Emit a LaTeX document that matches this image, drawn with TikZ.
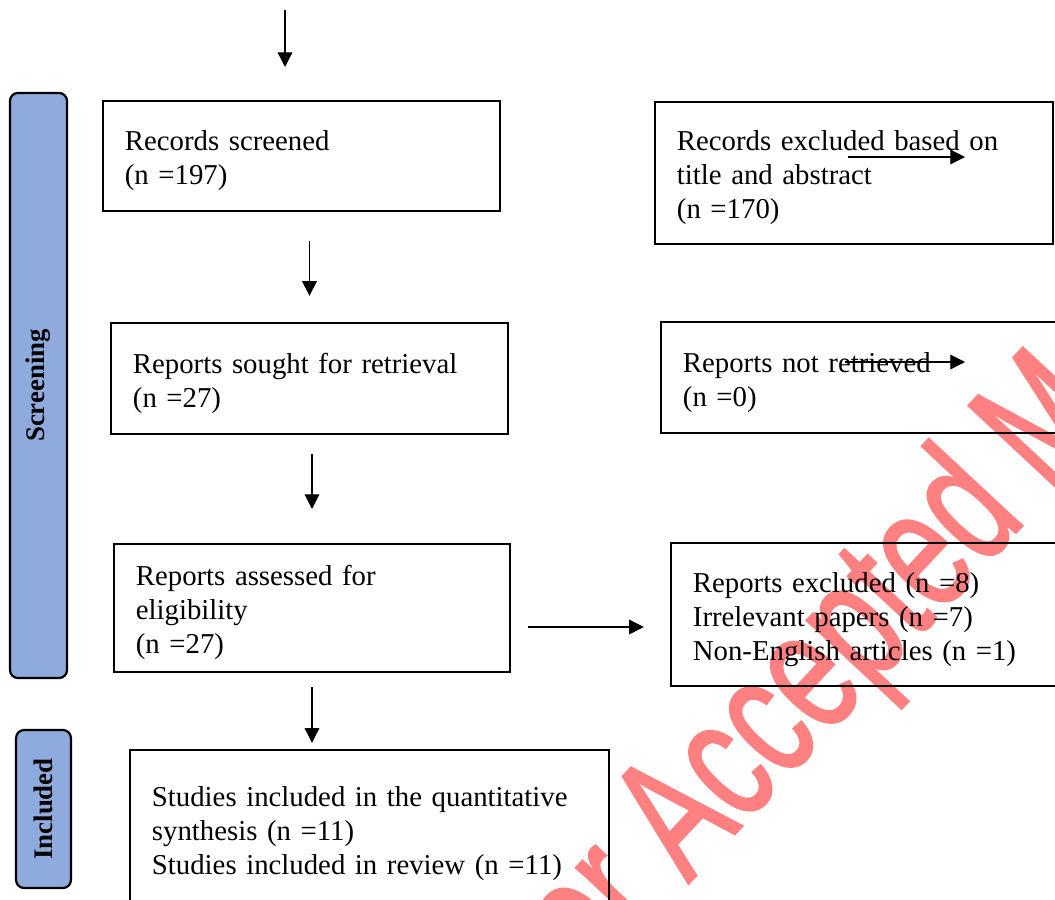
\documentclass[tikz,border=0pt]{standalone}
\usepackage{fontspec}
\setmainfont{Liberation Serif}
\newfontfamily\wmfont[FakeBold=1.5]{Liberation Sans}
\usetikzlibrary{arrows.meta}
\definecolor{barblue}{RGB}{143,170,220}
\definecolor{wmred}{RGB}{255,128,128}

\begin{document}
\begin{tikzpicture}[x=0.41pt, y=-0.41pt,
	stage/.style={draw, line width=0.9pt, align=left, inner xsep=9pt, inner ysep=0pt, font=\fontsize{11.8}{13.9}\selectfont, execute at begin node={\rule{0pt}{12.2pt}}},
	bar/.style={draw, line width=0.9pt, rounded corners=3.3pt, fill=barblue, font=\bfseries\fontsize{11}{13}\selectfont},
	arr/.style={-{Triangle[length=6pt,width=6pt]}, line width=0.5pt},
	wmark/.style={text=wmred, font=\wmfont\fontsize{72}{80}\selectfont, inner sep=0pt}]
			\useasboundingbox (0, 0) rectangle (1055, 899);
			\clip (0, 0) rectangle (1055, 899);
			%%
			\node[wmark, rotate=47, xscale=0.68, anchor=base west] (wm) at (688, 884) {\llap{Author }Accepted Manuscript};
			%%
			\node[bar, rotate=90, minimum width=239.9pt, minimum height=23.4pt] (scr) at (38.5, 385.5) {Screening};
			\node[bar, rotate=90, minimum width=64.8pt, minimum height=22.5pt] (inc) at (43.5, 809) {Included};
			%%
			\node[stage, text width=144.8pt, minimum height=45.1pt] (rs) at (301.5, 156) {Records screened\\(n =197)};
			\node[stage, text width=144.8pt, minimum height=45.5pt] (sought) at (309.5, 378.5) {Reports sought for retrieval\\(n =27)};
			\node[stage, text width=144.4pt, minimum height=52.5pt] (assessed) at (312, 608) {Reports assessed for\\eligibility\\(n =27)};
			\node[stage, text width=178.4pt, minimum height=64.4pt] (incl) at (369.5, 828.5) {Studies included in the quantitative\\synthesis (n =11)\\Studies included in review (n =11)};
			%%
			\node[stage, text width=145.2pt, minimum height=58.2pt] (excl1) at (854, 173) {Records excluded based on\\title and abstract\\(n =170)};
			\node[stage, text width=145.2pt, minimum height=45.5pt] (notret) at (860, 377.5) {Reports not retrieved\\(n =0)};
			\node[stage, text width=145.2pt, minimum height=58.6pt] (excl2) at (870, 614.5) {Reports excluded (n =8)\\Irrelevant papers (n =7)\\Non-English articles (n =1)};
			%%
			\coordinate (src) at (285, 10);
			\coordinate (aside) at (0, 627);
			\coordinate (s1a) at (848, 157);
			\coordinate (s1b) at (965, 157);
			\coordinate (s2a) at (845, 362);
			\coordinate (s2b) at (965, 362);
			%%
			\draw[arr, shorten >=13.5pt] (src) -- (src |- rs.north);
			\draw[arr, shorten <=11.9pt, shorten >=10.7pt] (sought.north |- rs.south) -- (sought.north);
			\draw[arr, shorten <=7.8pt, shorten >=13.9pt] (assessed.north |- sought.south) -- (assessed.north);
			\draw[arr, shorten <=5.7pt, shorten >=2.5pt] (assessed.south) -- (assessed.south |- incl.north);
			\draw[arr, shorten <=7pt, shorten >=10.7pt] (assessed.east |- aside) -- (excl2.west |- aside);
			%%
			\draw[arr] (s1a) -- (s1b);
			\draw[arr] (s2a) -- (s2b);
		\end{tikzpicture}
\end{document}
